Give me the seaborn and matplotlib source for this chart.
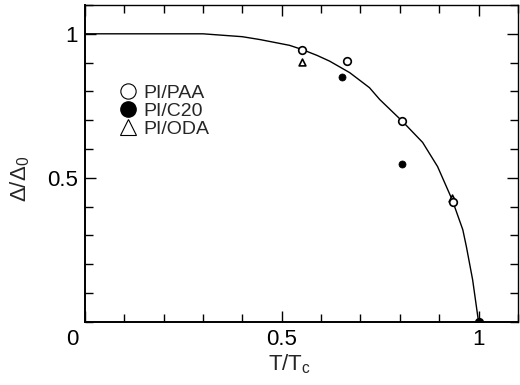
import matplotlib
matplotlib.use("Agg")
import matplotlib.pyplot as plt
from matplotlib.ticker import MultipleLocator
from matplotlib.lines import Line2D
from matplotlib.transforms import ScaledTranslation
import seaborn as sns
import pandas as pd

# ---- data ----
paa_x = [0.551, 0.665, 0.806, 0.935, 1.0]
paa_y = [0.944, 0.907, 0.697, 0.415, 0.0]

c20_x = [0.652, 0.805, 1.0]
c20_y = [0.851, 0.549, 0.0]

oda_x = [0.551, 0.933]
oda_y = [0.903, 0.430]

curve_x = [0.0, 0.30, 0.40, 0.445, 0.52, 0.551, 0.59, 0.622, 0.673, 0.723,
           0.749, 0.806, 0.858, 0.896, 0.933, 0.96, 0.969, 0.985, 1.0]
curve_y = [1.0, 1.0, 0.990, 0.980, 0.960, 0.946, 0.925, 0.905, 0.865, 0.813,
           0.772, 0.697, 0.623, 0.539, 0.424, 0.32, 0.262, 0.146, 0.0]

legend_labels = ["PI/PAA", "PI/C20", "PI/ODA"]
x_ticks = [0, 0.5, 1]
x_tick_labels = ["0", "0.5", "1"]
y_ticks = [0.5, 1]
y_tick_labels = ["0.5", "1"]

# ---- style ----
sns.set_style("ticks")
plt.rcParams["font.family"] = ["Liberation Sans", "DejaVu Sans"]
plt.rcParams["mathtext.fontset"] = "custom"
plt.rcParams["mathtext.rm"] = "Liberation Sans"
plt.rcParams["mathtext.it"] = "Liberation Sans"

fig = plt.figure(figsize=(5.2, 3.85), dpi=100)
ax = fig.add_axes([0.163, 0.164, 0.833, 0.823])

curve_df = pd.DataFrame({"x": curve_x, "y": curve_y})
sns.lineplot(data=curve_df, x="x", y="y", ax=ax, color="black", lw=1.0,
             sort=False, estimator=None)

paa_df = pd.DataFrame({"x": paa_x, "y": paa_y})
c20_df = pd.DataFrame({"x": c20_x, "y": c20_y})
oda_df = pd.DataFrame({"x": oda_x, "y": oda_y})

sns.scatterplot(data=oda_df, x="x", y="y", ax=ax, marker="^", s=24,
                facecolor="white", edgecolor="black", linewidth=1.2, zorder=3)
sns.scatterplot(data=paa_df, x="x", y="y", ax=ax, marker="o", s=30,
                facecolor="white", edgecolor="black", linewidth=1.2, zorder=4)
sns.scatterplot(data=c20_df, x="x", y="y", ax=ax, marker="o", s=26,
                color="black", edgecolor="black", linewidth=0.5, zorder=5)

ax.set_xlim(0, 1.1)
ax.set_ylim(0, 1.1)
ax.set_xticks(x_ticks)
ax.set_xticklabels(x_tick_labels)
ax.set_yticks(y_ticks)
ax.set_yticklabels(y_tick_labels)
ax.xaxis.set_minor_locator(MultipleLocator(0.1))
ax.yaxis.set_minor_locator(MultipleLocator(0.1))
ax.tick_params(which="both", direction="in", top=True, right=True,
               labelsize=16, width=1.0, colors="black")
ax.tick_params(which="major", length=8, pad=5)
ax.tick_params(which="minor", length=6)
for s in ax.spines.values():
    s.set_visible(True)
    s.set_linewidth(1.0)
    s.set_color("black")
ax.spines["left"].set_linewidth(1.4)
ax.spines["bottom"].set_linewidth(1.4)

# shift the corner "0" label to the left like the reference
zero_lbl = ax.get_xticklabels()[0]
zero_lbl.set_transform(zero_lbl.get_transform() +
                       ScaledTranslation(-12 / 100, 0, fig.dpi_scale_trans))

ax.set_xlabel("T/T$_\\mathrm{c}$", fontsize=16)
ax.set_ylabel("Δ/Δ$_\\mathrm{0}$", fontsize=16)
ax.xaxis.set_label_coords(0.473, -0.095)
ax.yaxis.set_label_coords(-0.122, 0.45)

handles = [
    Line2D([], [], ls="none", marker="o", ms=11, mfc="white", mec="black", mew=0.8),
    Line2D([], [], ls="none", marker="o", ms=11, mfc="black", mec="black"),
    Line2D([], [], ls="none", marker="^", ms=11, mfc="white", mec="black", mew=0.8),
]
ax.legend(handles, legend_labels, loc="upper left", bbox_to_anchor=(0.05, 0.78),
          frameon=False, fontsize=14, handletextpad=0.2, labelspacing=0.02,
          handlelength=1.2, borderpad=0)

fig.savefig("out.png", dpi=100)
